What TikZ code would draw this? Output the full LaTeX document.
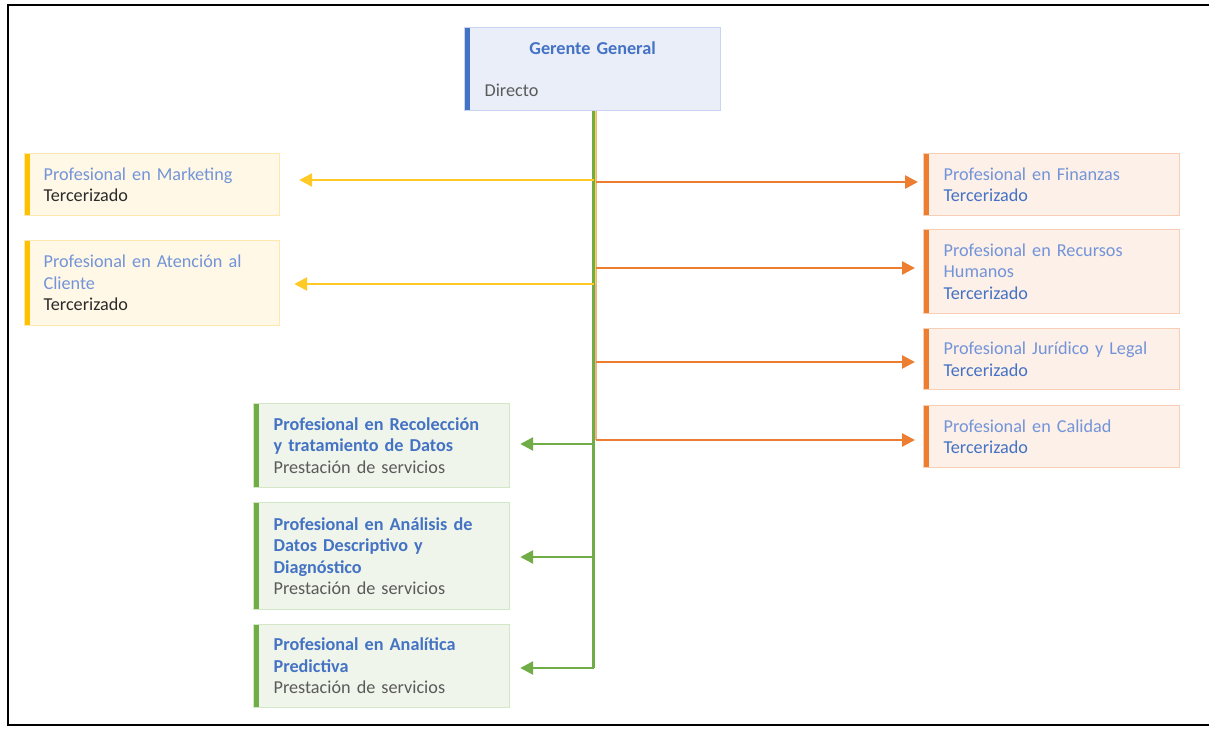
\documentclass[tikz,border=0pt]{standalone}
\usepackage{fontspec}
\setmainfont{Carlito}
\usetikzlibrary{arrows.meta,calc}

\definecolor{titleblue}{HTML}{4472C4}
\definecolor{softblue}{HTML}{7394D8}
\definecolor{greytext}{HTML}{5A5A5A}
\definecolor{darktext}{HTML}{2B2B2B}
\definecolor{yacc}{HTML}{FFC000}
\definecolor{yfill}{HTML}{FFF8E6}
\definecolor{yline}{HTML}{FFE8AE}
\definecolor{oacc}{HTML}{ED7D31}
\definecolor{ofill}{HTML}{FCF0E8}
\definecolor{oline}{HTML}{F8CFB4}
\definecolor{gacc}{HTML}{70AD47}
\definecolor{gfill}{HTML}{EFF5EA}
\definecolor{gline}{HTML}{D3E6C6}
\definecolor{bacc}{HTML}{4472C4}
\definecolor{bfill}{HTML}{E9EEF8}
\definecolor{bline}{HTML}{C7D5F0}

\newcommand{\roleSoft}[1]{{\color{softblue}#1}}
\newcommand{\roleBold}[1]{{\color{titleblue}\bfseries #1}}
\newcommand{\roleBlue}[1]{{\color{titleblue}#1}}
\newcommand{\roleGrey}[1]{{\color{greytext}#1}}
\newcommand{\roleDark}[1]{{\color{darktext}#1}}

\tikzset{
  card/.style n args={3}{draw=#2, fill=#1, line width=1.2pt,
    anchor=north west, inner xsep=0pt, inner ysep=0pt, align=left,
    font=\fontsize{18.2}{21.5}\selectfont,
    path picture={\fill[#3] (path picture bounding box.north west)
      rectangle ([xshift=5pt]path picture bounding box.south west);}},
  ycard/.style={card={yfill}{yline}{yacc}},
  ocard/.style={card={ofill}{oline}{oacc}},
  gcard/.style={card={gfill}{gline}{gacc}},
  bcard/.style={card={bfill}{bline}{bacc}},
  link/.style={line width=2.6pt, -{Triangle[length=13pt,width=13pt]}},
  ylink/.style={link, draw=yacc!85!white, fill=yacc!85!white},
  olink/.style={link, draw=oacc, fill=oacc},
  glink/.style={link, draw=gacc, fill=gacc},
}

\begin{document}
\begin{tikzpicture}[x=1pt, y=-1pt]
  \useasboundingbox (0,0) rectangle (1209,730);
  \draw[line width=2pt] (8,5) rectangle (1230,725);

  % head of the chart
  \node[bcard, minimum width=256pt, minimum height=83pt, text width=216pt]
    (gg) at (464,27)
    {\makebox[\linewidth]{\roleBold{Gerente General}}\\[21pt]
     \roleGrey{Directo}};

  % left column, outsourced roles
  \node[ycard, minimum width=255pt, minimum height=62pt, text width=217pt]
    (mkt) at (24,153)
    {\roleSoft{Profesional en Marketing}\\\roleDark{Tercerizado}};
  \node[ycard, minimum width=255pt, minimum height=85pt, text width=217pt]
    (atc) at (24,240)
    {\roleSoft{Profesional en Atención al}\\\roleSoft{Cliente}\\\roleDark{Tercerizado}};

  % right column, outsourced roles
  \node[ocard, minimum width=256pt, minimum height=62pt, text width=216pt]
    (fin) at (923,153)
    {\roleSoft{Profesional en Finanzas}\\\roleBlue{Tercerizado}};
  \node[ocard, minimum width=256pt, minimum height=84pt, text width=216pt]
    (rrhh) at (923,229)
    {\roleSoft{Profesional en Recursos}\\\roleSoft{Humanos}\\\roleBlue{Tercerizado}};
  \node[ocard, minimum width=256pt, minimum height=61pt, text width=216pt]
    (jur) at (923,328)
    {\roleSoft{Profesional Jurídico y Legal}\\\roleBlue{Tercerizado}};
  \node[ocard, minimum width=256pt, minimum height=62pt, text width=216pt]
    (cal) at (923,405)
    {\roleSoft{Profesional en Calidad}\\\roleBlue{Tercerizado}};

  % data team, service contracts
  \node[gcard, minimum width=256pt, minimum height=84pt, text width=216pt]
    (rec) at (253,403)
    {\roleBold{Profesional en Recolección}\\\roleBold{y tratamiento de Datos}\\\roleGrey{Prestación de servicios}};
  \node[gcard, minimum width=256pt, minimum height=107pt, text width=216pt]
    (ana) at (253,502)
    {\roleBold{Profesional en Análisis de}\\\roleBold{Datos Descriptivo y}\\\roleBold{Diagnóstico}\\\roleGrey{Prestación de servicios}};
  \node[gcard, minimum width=256pt, minimum height=83pt, text width=216pt]
    (pred) at (253,624)
    {\roleBold{Profesional en Analítica}\\\roleBold{Predictiva}\\\roleGrey{Prestación de servicios}};

  % trunk lines
  \coordinate (top) at ($(gg.south)+(1,0)$);
  \coordinate (ya) at (top |- 0,180);
  \coordinate (yb) at (top |- 0,284);
  \coordinate (oa) at ($(top |- 0,182)+(2,0)$);
  \coordinate (ob) at ($(top |- 0,268)+(2,0)$);
  \coordinate (oc) at ($(top |- 0,362)+(2,0)$);
  \coordinate (od) at ($(top |- 0,440)+(2,0)$);
  \coordinate (ga) at (top |- 0,444);
  \coordinate (gb) at (top |- 0,557);
  \coordinate (gc) at (top |- 0,668);

  \draw[line width=2pt, oacc!60!white] ($(top)+(2,0)$) -- (od);
  \draw[line width=2pt, yacc!70!white] ($(top)+(1.5,0)$) -- ($(yb)+(1.5,0)$);
  \draw[line width=2.4pt, gacc] (top) -- (gc);

  % branches
  \draw[ylink, shorten >=19pt] (ya) -- (ya -| mkt.east);
  \draw[ylink, shorten >=14pt] (yb) -- (yb -| atc.east);
  \draw[olink, shorten >=5pt] (oa) -- (oa -| fin.west);
  \draw[olink, shorten >=8pt] (ob) -- (ob -| rrhh.west);
  \draw[olink, shorten >=8pt] (oc) -- (oc -| jur.west);
  \draw[olink, shorten >=8pt] (od) -- (od -| cal.west);
  \draw[glink, shorten >=10pt] (ga) -- (ga -| rec.east);
  \draw[glink, shorten >=10pt] (gb) -- (gb -| ana.east);
  \draw[glink, shorten >=10pt] (gc) -- (gc -| pred.east);
\end{tikzpicture}
\end{document}
